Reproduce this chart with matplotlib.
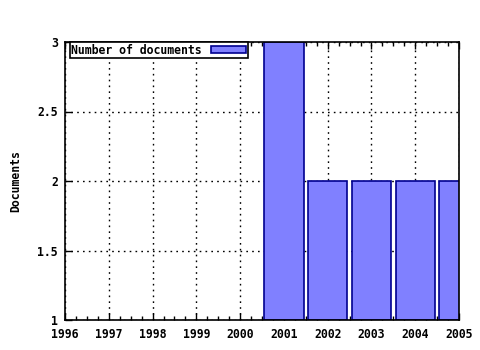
import matplotlib
matplotlib.use("Agg")
import matplotlib.pyplot as plt
from matplotlib.ticker import MultipleLocator, FixedLocator

years = [2001, 2002, 2003, 2004, 2005]
documents = [3, 2, 2, 2, 2]
year_ticks = list(range(1996, 2006))
y_ticks = [1, 1.5, 2, 2.5, 3]
y_labels = ["1", "1.5", "2", "2.5", "3"]

plt.rcParams['font.family'] = ['DejaVu Sans Mono']
plt.rcParams['font.weight'] = 'bold'
plt.rcParams['axes.labelweight'] = 'bold'
plt.rcParams['font.size'] = 8.3

fig = plt.figure(figsize=(4.8, 3.5), dpi=100)
ax = fig.add_axes([65/480, 30/350, 394/480, 278/350])

ax.bar(years, [d - 1 for d in documents], bottom=1, width=0.9,
       color='#8080ff', edgecolor='#000090', linewidth=1.2,
       label='Number of documents', zorder=2)

ax.set_xlim(1996, 2005)
ax.set_ylim(1, 3)
ax.xaxis.set_major_locator(FixedLocator(year_ticks))
ax.xaxis.set_minor_locator(MultipleLocator(0.25))
ax.set_xticklabels([str(y) for y in year_ticks])
ax.yaxis.set_major_locator(FixedLocator(y_ticks))
ax.set_yticklabels(y_labels)

ax.grid(True, which='major', color='black', linestyle=(0, (1.2, 3)), linewidth=1, zorder=1)
ax.set_axisbelow(True)

ax.tick_params(axis='x', which='major', direction='in', length=5, width=1,
               top=True, pad=6, colors='black')
ax.tick_params(axis='x', which='minor', direction='in', length=3, width=1, top=True)
ax.tick_params(axis='y', which='major', direction='in', length=5, width=1, pad=5, right=False)

for s in ax.spines.values():
    s.set_linewidth(1.2)
    s.set_color('black')

ax.set_ylabel('Documents', labelpad=11, fontweight='bold')

leg = ax.legend(loc='upper left', bbox_to_anchor=(0.012, 1.0), frameon=True,
                fancybox=False, borderpad=0.15, handlelength=3.0, handleheight=0.6,
                handletextpad=0.8, borderaxespad=0.0, markerfirst=False)
leg.get_frame().set_edgecolor('black')
leg.get_frame().set_linewidth(1.2)
leg.get_frame().set_alpha(1)

fig.savefig('out.png', dpi=100)
